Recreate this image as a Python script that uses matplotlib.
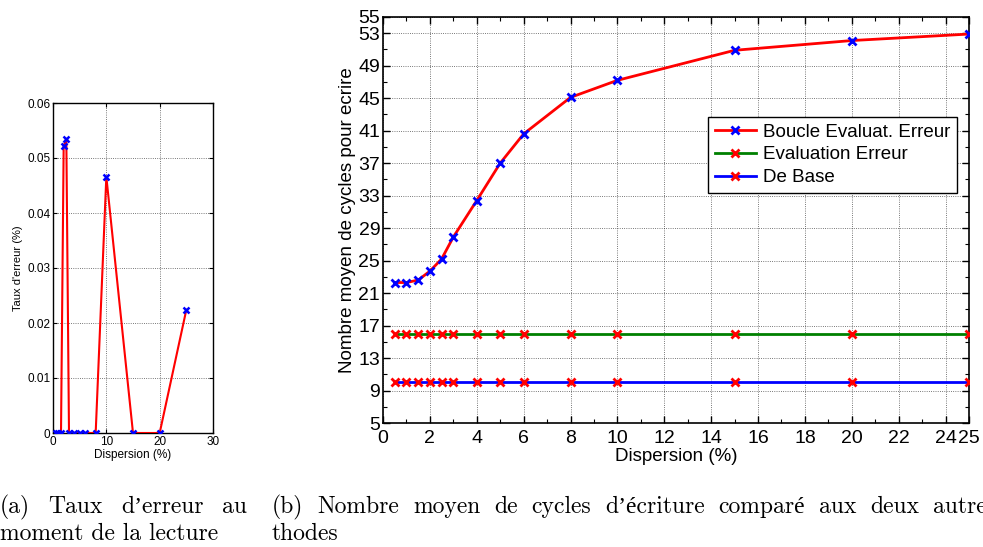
import matplotlib
matplotlib.use("Agg")
import matplotlib.pyplot as plt
from matplotlib.ticker import MultipleLocator, FixedLocator

plt.rcParams.update({
    "font.family": ["Liberation Sans", "DejaVu Sans"],
    "xtick.direction": "in",
    "ytick.direction": "in",
    "xtick.top": True,
    "ytick.right": True,
})

# dispersion values (%) shared by both panels
dispersion = [0.5, 1, 1.5, 2, 2.5, 3, 4, 5, 6, 8, 10, 15, 20, 25]

# (a) error rate at read time
taux_erreur = [0, 0, 0, 0.0522, 0.0534, 0, 0, 0, 0, 0, 0.0466, 0, 0, 0.0224]

# (b) mean number of write cycles
boucle = [22.3, 22.3, 22.6, 23.7, 25.2, 27.9, 32.4, 37.0, 40.6, 45.1, 47.2, 50.9, 52.1, 52.9]
evaluation = [16] * len(dispersion)
de_base = [10] * len(dispersion)

y_ticks_b = [5, 9, 13, 17, 21, 25, 29, 33, 37, 41, 45, 49, 53, 55]
x_ticks_b = [0, 2, 4, 6, 8, 10, 12, 14, 16, 18, 20, 22, 24, 25]

W, H = 983, 547
fig = plt.figure(figsize=(W / 100, H / 100), dpi=100)


def box(l, t, r, b):
    return [l / W, 1 - b / H, (r - l) / W, (b - t) / H]


grid_kw = dict(color="black", ls=":", lw=0.6, alpha=0.7)

# ---- panel (a)
ax1 = fig.add_axes(box(53, 103, 213, 433))
ax1.plot(dispersion, taux_erreur, "-", color="red", lw=1.5, zorder=3)
ax1.plot(dispersion, taux_erreur, "x", color="blue", ms=4.5, mew=1.8, zorder=4)
ax1.set_xlim(0, 30)
ax1.set_ylim(0, 0.06)
ax1.set_xticks([0, 10, 20, 30])
ax1.set_yticks([0, 0.01, 0.02, 0.03, 0.04, 0.05, 0.06])
ax1.set_yticklabels(["0", "0.01", "0.02", "0.03", "0.04", "0.05", "0.06"])
ax1.tick_params(labelsize=8.5, length=3, width=0.8, pad=2)
ax1.grid(True, **grid_kw)
ax1.set_xlabel("Dispersion (%)", fontsize=8.5, labelpad=1)
ax1.set_ylabel("Taux d'erreur (%)", fontsize=8, labelpad=3)
for s in ax1.spines.values():
    s.set_linewidth(1.0)

# ---- panel (b)
mk = dict(lw=2, ms=5.5, mew=2)
ax2 = fig.add_axes(box(383, 17, 969, 423))
ax2.plot(dispersion, boucle, "-x", color="red", mec="blue",
         label="Boucle Evaluat. Erreur", zorder=4, **mk)
ax2.plot(dispersion, evaluation, "-x", color="#008000", mec="red",
         label="Evaluation Erreur", zorder=3, **mk)
ax2.plot(dispersion, de_base, "-x", color="blue", mec="red",
         label="De Base", zorder=3, **mk)
ax2.set_xlim(0, 25)
ax2.set_ylim(5, 55)
ax2.xaxis.set_major_locator(FixedLocator(x_ticks_b))
ax2.yaxis.set_major_locator(FixedLocator(y_ticks_b))
ax2.xaxis.set_minor_locator(MultipleLocator(1))
ax2.yaxis.set_minor_locator(MultipleLocator(2, offset=1))
ax2.tick_params(which="major", labelsize=14, length=5, width=1)
ax2.tick_params(axis="x", which="major", pad=5)
ax2.tick_params(axis="y", which="major", pad=2)
ax2.tick_params(which="minor", length=3, width=0.8)
ax2.grid(True, which="major", **grid_kw)
ax2.set_xlabel("Dispersion (%)", fontsize=13.5, labelpad=1)
ax2.set_ylabel("Nombre moyen de cycles pour ecrire", fontsize=13.5, labelpad=2)
for s in ax2.spines.values():
    s.set_linewidth(1.2)
leg = ax2.legend(loc="upper right", bbox_to_anchor=(0.98, 0.754), borderaxespad=0,
                 fontsize=13.5, fancybox=False, framealpha=1, edgecolor="black",
                 handlelength=2.2, handletextpad=0.4, borderpad=0.35, labelspacing=0.3)
leg.get_frame().set_linewidth(1.0)

# ---- captions (computer-modern look; first lines justified like LaTeX)
cap = dict(family=["cmr10", "Liberation Serif"], fontsize=17, va="baseline")
renderer = fig.canvas.get_renderer()


def justified(words, x0, x_last, y):
    # spread words evenly so the last word starts at x_last
    texts = [fig.text(0, 1 - y / H, w, **cap) for w in words]
    widths = [t.get_window_extent(renderer).width for t in texts]
    gap = (x_last - x0 - sum(widths[:-1])) / (len(words) - 1)
    x = x0
    for t, w in zip(texts, widths):
        t.set_x(x / W)
        x += w + gap


justified(["(a)", "Taux", "d’erreur", "au"], 0, 222, 513)
justified(["(b)", "Nombre", "moyen", "de", "cycles", "d’écriture", "comparé",
           "aux", "deux", "autres"], 272, 933, 513)
fig.text(0, 1 - 540 / H, "moment de la lecture", **cap)
fig.text(272 / W, 1 - 540 / H, "thodes", **cap)

fig.savefig("out.png", dpi=100)
